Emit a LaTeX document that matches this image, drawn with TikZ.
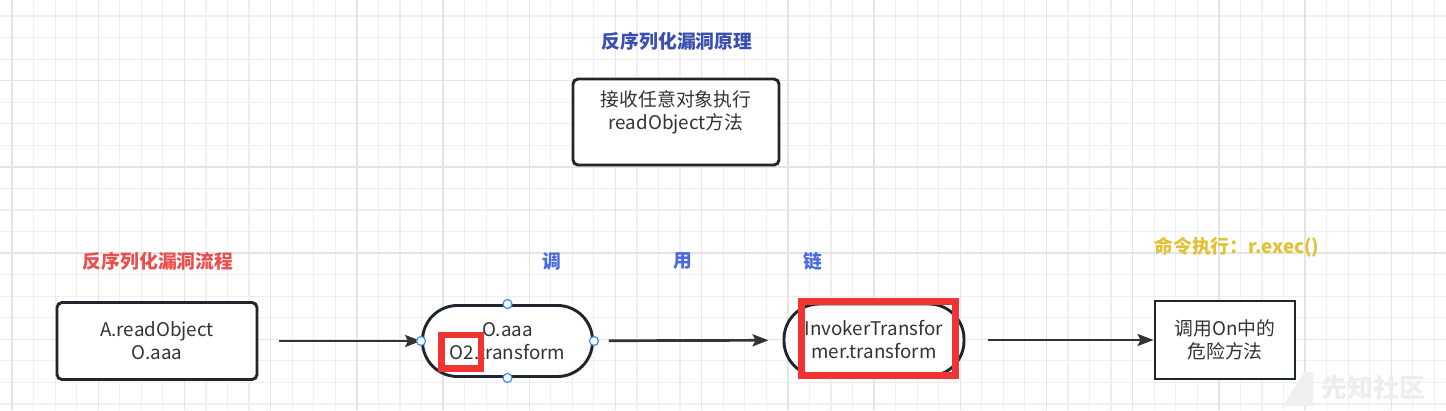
\documentclass[tikz,border=0pt]{standalone}
\usepackage{fontspec}
\setmainfont{Noto Sans CJK SC}
\usetikzlibrary{arrows.meta,positioning}
\definecolor{inkline}{HTML}{1F262D}
\definecolor{inktext}{HTML}{333333}
\definecolor{titleblue}{HTML}{3A4FB0}
\definecolor{chainblue}{HTML}{4A6AE0}
\definecolor{flowred}{HTML}{EA4F4F}
\definecolor{execyellow}{HTML}{E2C235}
\definecolor{markred}{HTML}{F03333}
\definecolor{handleblue}{HTML}{3C8AF6}
\definecolor{gridminor}{HTML}{EFEFEF}
\definecolor{gridmajor}{HTML}{E4E4E4}
\tikzset{
  box/.style={draw=inkline, line width=2.9, rounded corners=5, fill=white,
    text=inktext, align=center, font=\fontsize{18.8}{23}\selectfont},
  pill/.style={box, rounded corners=35},
  heading/.style={font=\fontsize{18.8}{20}\selectfont\bfseries},
  flow/.style={draw=inktext, line width=2.7, -{Stealth[length=16,width=12,inset=3]}},
  highlight/.style={draw=markred, line width=6.8},
  handle/.style={circle, draw=handleblue, fill=white, line width=1.2,
    minimum size=9, inner sep=0}
}
\begin{document}
\begin{tikzpicture}[x=1pt, y=-1pt]
  \useasboundingbox (0,0) rectangle (1446,410);
  % background grid
  \foreach \gx in {0,...,67}
    \draw[gridminor, line width=1.2] (12+21.55*\gx-21.55,0) -- (12+21.55*\gx-21.55,410);
  \foreach \gy in {0,...,19}
    \draw[gridminor, line width=1.2] (0,-5.5+21.55*\gy) -- (1446,-5.5+21.55*\gy);
  \foreach \gx in {0,...,16}
    \draw[gridmajor, line width=1.4] (12+86.2*\gx,0) -- (12+86.2*\gx,410);
  \foreach \gy in {0,...,5}
    \draw[gridmajor, line width=1.4] (0,-5.5+86.2*\gy) -- (1446,-5.5+86.2*\gy);

  % headings
  \node[heading, text=titleblue] (principletitle) at (677,41) {反序列化漏洞原理};
  \node[heading, text=flowred] (flowtitle) at (158,261) {反序列化漏洞流程};
  \node[heading, text=execyellow] (exectitle) at (1237,247) {命令执行：r.exec()};
  \node[heading, text=chainblue] (chainA) at (552,261) {调};
  \node[heading, text=chainblue] (chainB) at (683,261) {用};
  \node[heading, text=chainblue] (chainC) at (813,261) {链};

  % principle box
  \node[box, minimum width=206, minimum height=86] (principle) at (676,122) {};
  \node[text=inktext, align=center, font=\fontsize{18.8}{23}\selectfont]
    (principletext) at (676,112) {接收任意对象执行\\readObject方法};

  % flow
  \node[box, minimum width=200, minimum height=77] (readobj) at (157,341)
    {A.readObject\\O.aaa};
  \node[pill, minimum width=170, minimum height=71] (otransform) at (507.5,341)
    {O.aaa\\O2.transform};
  \node[pill, minimum width=180, minimum height=72] (invoker) at (874,340)
    {InvokerTransfor\\mer.transform};
  \node[box, rounded corners=0, minimum width=140, minimum height=78] (danger) at (1225,340)
    {调用On中的\\危险方法};

  \draw[flow, shorten <=21] (readobj) -- (otransform);
  \draw[flow, shorten <=15, shorten >=14] (otransform) -- (invoker);
  \draw[flow, shorten <=23] (invoker) -- (danger);

  % highlight marks
  \draw[highlight] (441.5,335) rectangle (481,368.5);
  \draw[highlight] (801.5,301.5) rectangle (955.5,375.5);

  % selection handles
  \foreach \side in {north,east,south,west}
    \node[handle] at (otransform.\side) {};

  % watermark
  \fill[gray!12] (1283,406) -- (1304,372) -- (1313,372) -- (1313,406) -- cycle;
  \node[text=gray!14, font=\fontsize{26}{28}\selectfont\bfseries] (watermark) at (1373,388) {先知社区};
\end{tikzpicture}
\end{document}
